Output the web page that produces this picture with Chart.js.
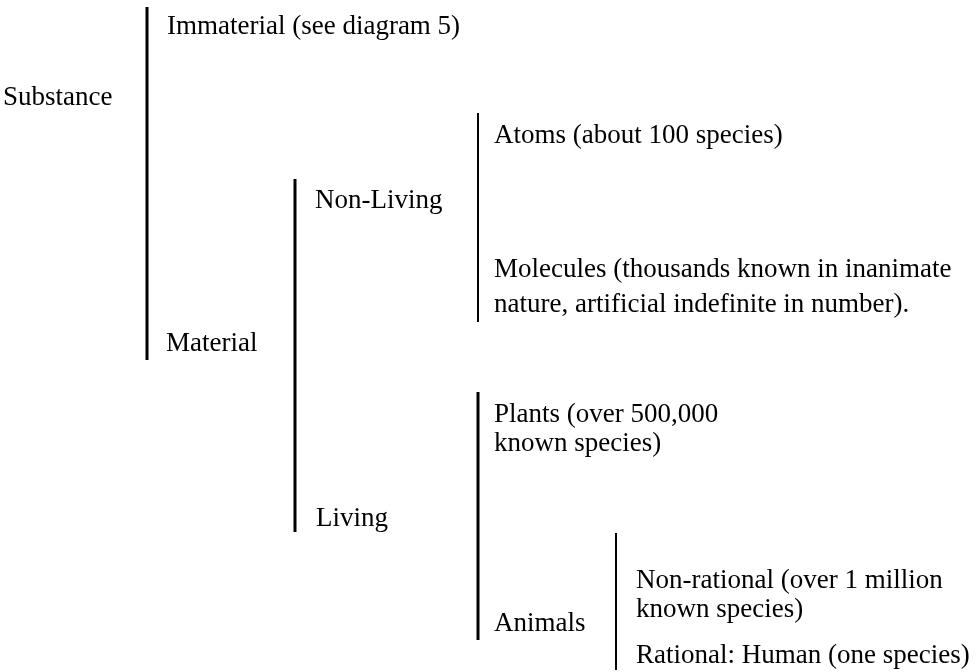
<!DOCTYPE html>
<html>
<head>
<meta charset="utf-8">
<script src="https://cdn.jsdelivr.net/npm/chart.js@4/dist/chart.umd.min.js"></script>
<style>
  html, body { margin: 0; padding: 0; background: #fff; }
  #wrap { width: 979px; height: 672px; }
</style>
</head>
<body>
<div id="wrap"><canvas id="tree" width="979" height="672"></canvas></div>
<script>
// node texts of the classification, one entry per printed line
var nodeLabels = [
  "Substance",
  "Immaterial (see diagram 5)",
  "Material",
  "Non-Living",
  "Living",
  "Atoms (about 100 species)",
  "Molecules (thousands known in inanimate",
  "nature, artificial indefinite in number).",
  "Plants (over 500,000",
  "known species)",
  "Animals",
  "Non-rational (over 1 million",
  "known species)",
  "Rational: Human (one species)"
];
// where each line sits on the diagram grid (x = left edge, y = baseline)
var nodeX = [3, 167, 166, 315, 316, 494, 494, 494, 494, 494, 494, 636, 636, 636];
var nodeY = [105, 34, 351, 208, 526, 143, 277, 312, 422, 451, 631, 588, 617, 663];

// brace bars joining a parent to its children
var barX      = [147, 295, 478, 478, 616];
var barTop    = [7, 179, 113, 392, 533];
var barBottom = [360, 532, 322, 640, 670];
var barWidth  = [3, 3, 2, 3, 2];

var datasets = [];
for (var i = 0; i < barX.length; i++) {
  datasets.push({
    type: 'line',
    data: [{x: barX[i], y: barTop[i]}, {x: barX[i], y: barBottom[i]}],
    borderColor: '#000',
    borderWidth: barWidth[i],
    borderCapStyle: 'butt',
    pointRadius: 0,
    fill: false
  });
}
datasets.push({
  type: 'scatter',
  label: 'nodes',
  data: nodeX.map(function(x, i) { return {x: x, y: nodeY[i]}; }),
  pointRadius: 0,
  pointHoverRadius: 0
});

var textPlugin = {
  id: 'nodeText',
  afterDatasetsDraw: function(chart) {
    var ctx = chart.ctx;
    var meta = chart.getDatasetMeta(datasets.length - 1);
    ctx.save();
    ctx.fillStyle = '#000';
    ctx.font = '27px "Liberation Serif", serif';
    ctx.textAlign = 'left';
    ctx.textBaseline = 'alphabetic';
    meta.data.forEach(function(pt, i) {
      ctx.fillText(nodeLabels[i], pt.x, pt.y);
    });
    ctx.restore();
  }
};

var ctx = document.getElementById("tree");
var treeChart = new Chart(ctx, {
  data: { datasets: datasets },
  options: {
    responsive: false,
    animation: false,
    layout: { padding: 0 },
    plugins: { legend: { display: false }, tooltip: { enabled: false } },
    scales: {
      x: { type: 'linear', min: 0, max: 979, display: false },
      y: { type: 'linear', min: 0, max: 672, reverse: true, display: false }
    }
  },
  plugins: [textPlugin]
});
</script>
</body>
</html>
